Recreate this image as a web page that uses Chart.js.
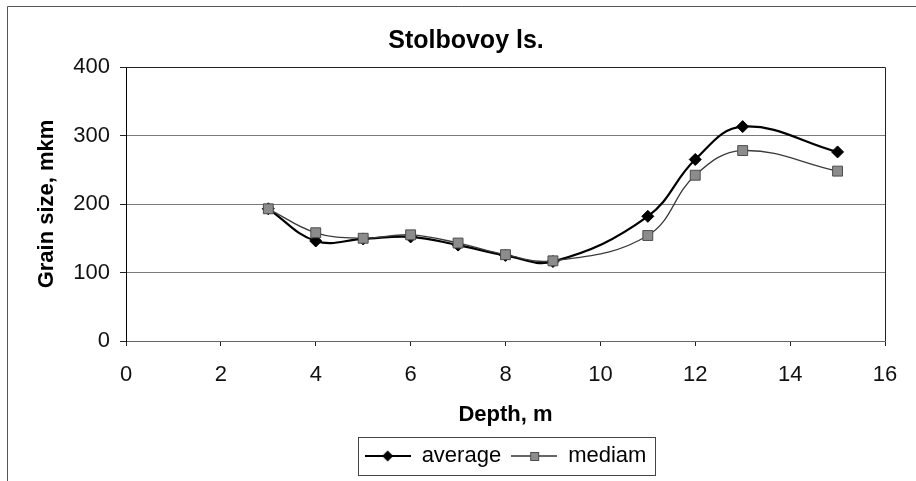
<!DOCTYPE html>
<html>
<head>
<meta charset="utf-8">
<title>Stolbovoy ls.</title>
<script src="https://cdn.jsdelivr.net/npm/chart.js@4.4.1/dist/chart.umd.min.js"></script>
<style>
	html, body { margin: 0; padding: 0; background: #fff; }
	#wrap { width: 916px; height: 481px; }
</style>
</head>
<body>
<div id="wrap"><canvas id="grainChart" width="916" height="481"></canvas></div>
<script>
// values
const depth = [3, 4, 5, 6, 7, 8, 9, 11, 12, 13, 15];
const averageSize = [193, 146, 149, 152, 140, 125, 116, 182, 265, 313, 276];
const mediamSize = [193, 158, 150, 155, 143, 126, 117, 154, 242, 278, 248];
const seriesNames = ['average', 'mediam'];
const chartTitle = 'Stolbovoy ls.';
const xRange = [0, 16];
const yRange = [0, 400];

const fontFamily = 'Arial, "Liberation Sans", sans-serif';
Chart.defaults.font.family = fontFamily;
Chart.defaults.color = '#000';

const toPoints = (ys) => depth.map((x, i) => ({ x, y: ys[i] }));

// legend sample: a short line with the marker in the middle
const makeLegendIcon = (kind) => {
	const c = document.createElement('canvas');
	c.width = 46;
	c.height = 14;
	const g = c.getContext('2d');
	g.strokeStyle = kind === 'average' ? '#000' : '#333';
	g.lineWidth = kind === 'average' ? 2 : 1.3;
	g.beginPath();
	g.moveTo(0, 7);
	g.lineTo(46, 7);
	g.stroke();
	if (kind === 'average') {
		g.fillStyle = '#000';
		g.beginPath();
		g.moveTo(23, 1.5);
		g.lineTo(28.5, 7);
		g.lineTo(23, 12.5);
		g.lineTo(17.5, 7);
		g.closePath();
		g.fill();
	} else {
		g.fillStyle = '#8c8c8c';
		g.strokeStyle = '#4d4d4d';
		g.lineWidth = 1;
		g.fillRect(19, 3, 9, 9);
		g.strokeRect(19.5, 3.5, 8, 8);
	}
	return c;
};

const framePlugin = {
	id: 'framePlugin',
	afterDraw(chart) {
		const { ctx, chartArea } = chart;
		ctx.save();
		// outer chart frame (top and left edges visible)
		ctx.strokeStyle = '#555';
		ctx.lineWidth = 1;
		ctx.beginPath();
		ctx.moveTo(7.5, 481);
		ctx.lineTo(7.5, 6.5);
		ctx.lineTo(916, 6.5);
		ctx.stroke();
		// plot area border
		ctx.strokeStyle = '#222';
		ctx.beginPath();
		ctx.moveTo(chartArea.left, Math.round(chartArea.top) + 0.5);
		ctx.lineTo(Math.round(chartArea.right) + 0.5, Math.round(chartArea.top) + 0.5);
		ctx.lineTo(Math.round(chartArea.right) + 0.5, chartArea.bottom);
		ctx.stroke();
		// legend box
		const boxes = chart.legend.legendHitBoxes;
		if (boxes && boxes.length) {
			const first = boxes[0];
			const last = boxes[boxes.length - 1];
			const left = Math.round(first.left - 7) + 0.5;
			const right = Math.round(last.left + last.width + 9) + 0.5;
			const top = Math.round(first.top - 8) + 0.5;
			const bottom = Math.round(first.top + first.height + 8) + 0.5;
			ctx.strokeStyle = '#444';
			ctx.strokeRect(left, top, right - left, bottom - top);
		}
		// chart title, centred on the whole (wider) chart frame
		ctx.fillStyle = '#000';
		ctx.font = 'bold 25px ' + fontFamily;
		ctx.textAlign = 'center';
		ctx.textBaseline = 'middle';
		ctx.fillText(chartTitle, 466, 41);
		ctx.restore();
	},
};

const canvas = document.getElementById('grainChart');
new Chart(canvas, {
	type: 'line',
	data: {
		datasets: [
			{
				label: seriesNames[0],
				data: toPoints(averageSize),
				borderColor: '#000',
				borderWidth: 2.2,
				pointStyle: 'rectRot',
				pointRadius: 6,
				pointBackgroundColor: '#000',
				pointBorderColor: '#000',
				pointBorderWidth: 1,
				tension: 0.4,
				order: 1,
			},
			{
				label: seriesNames[1],
				data: toPoints(mediamSize),
				borderColor: '#3a3a3a',
				borderWidth: 1.3,
				pointStyle: 'rect',
				pointRadius: 7,
				pointBackgroundColor: '#8c8c8c',
				pointBorderColor: '#4d4d4d',
				pointBorderWidth: 1,
				tension: 0.4,
				order: 0,
			},
		],
	},
	options: {
		responsive: false,
		animation: false,
		layout: {
			padding: { left: 0, right: 31, top: 67, bottom: 4 },
		},
		plugins: {
			title: { display: false },
			legend: {
				position: 'bottom',
				fullSize: false,
				labels: {
					usePointStyle: true,
					pointStyleWidth: 46,
					padding: 10,
					color: '#000',
					font: { size: 22 },
					generateLabels: (chart) =>
						chart.data.datasets.map((ds, i) => ({
							text: ds.label,
							pointStyle: makeLegendIcon(ds.label),
							fillStyle: 'transparent',
							strokeStyle: 'transparent',
							lineWidth: 0,
							hidden: false,
							datasetIndex: i,
						})),
				},
			},
			tooltip: { enabled: false },
		},
		scales: {
			x: {
				type: 'linear',
				min: xRange[0],
				max: xRange[1],
				ticks: {
					stepSize: 2,
					padding: 16,
					color: '#111',
					font: { size: 22 },
				},
				grid: {
					drawOnChartArea: false,
					drawTicks: true,
					tickLength: 5,
					tickColor: '#222',
				},
				border: { color: '#666', width: 1 },
				title: {
					display: true,
					text: 'Depth, m',
					color: '#000',
					font: { size: 22, weight: 'bold' },
					padding: { top: 13, bottom: 7 },
				},
				afterFit: (scale) => {
					scale.height = 94;
				},
			},
			y: {
				min: yRange[0],
				max: yRange[1],
				ticks: {
					stepSize: 100,
					padding: 10,
					color: '#111',
					font: { size: 22 },
				},
				grid: {
					color: '#7a7a7a',
					lineWidth: 1,
					drawTicks: true,
					tickLength: 6,
					tickColor: '#222',
				},
				border: { color: '#000', width: 1 },
				title: {
					display: true,
					text: 'Grain size, mkm',
					color: '#000',
					font: { size: 22, weight: 'bold' },
					padding: { top: 34, bottom: 0 },
				},
				afterFit: (scale) => {
					scale.width = 126;
				},
			},
		},
	},
	plugins: [framePlugin],
});
</script>
</body>
</html>
